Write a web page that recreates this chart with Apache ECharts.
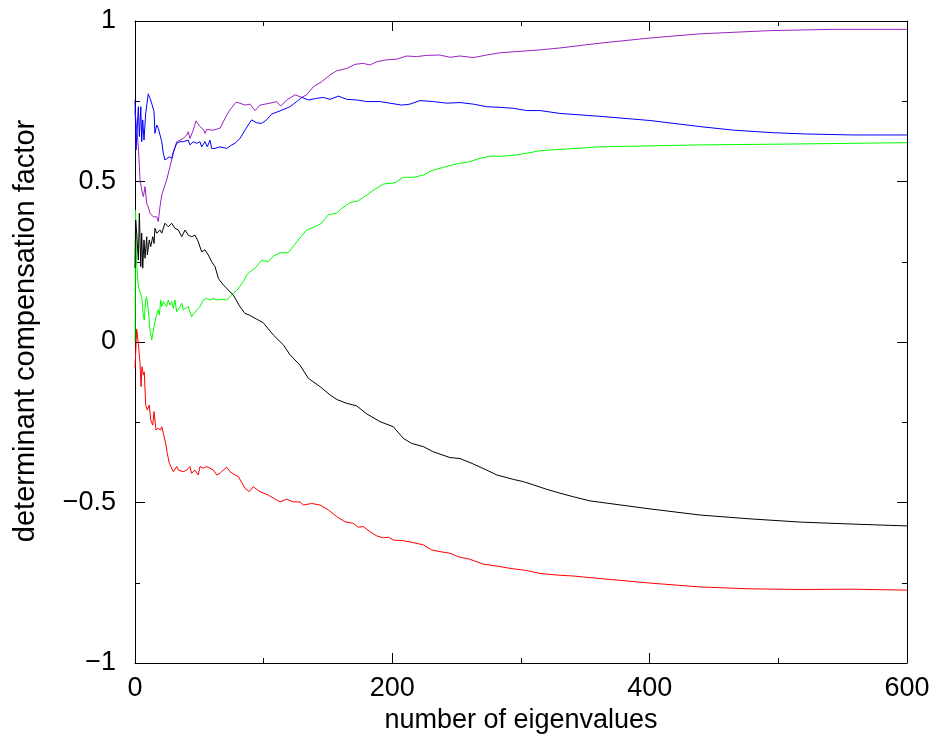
<!DOCTYPE html>
<html>
<head>
<meta charset="utf-8">
<script src="https://cdn.jsdelivr.net/npm/echarts@6/dist/echarts.min.js"></script>
<style>
  html, body { margin: 0; padding: 0; background: #fff; }
  #chart { width: 937px; height: 745px; }
</style>
</head>
<body>
<div id="chart"></div>
<script>
// Axis ranges and tick labels
const xTicks = [0, 200, 400, 600];
const yTicks = [-1, -0.5, 0, 0.5, 1];

// Each curve: [number of eigenvalues, determinant compensation factor]
const purpleCurve = [
  [0,0.72],[0.8,0.717],[2.6,0.608],[3.9,0.505],[5.2,0.473],[6.5,0.453],[7.8,0.484],[9.1,0.432],
  [10.3,0.421],[11.7,0.401],[14.2,0.390],[16.9,0.390],[18.1,0.375],[19.4,0.421],[20.8,0.458],[22,0.473],
  [24.6,0.505],[27.2,0.546],[29.8,0.588],[32.4,0.624],[35,0.629],[37.5,0.634],[40.2,0.645],[41.4,0.655],
  [42.7,0.634],[45.3,0.660],[47.4,0.689],[50.5,0.671],[53.6,0.660],[54.4,0.650],[55.7,0.662],[60.9,0.660],
  [66.1,0.666],[71.3,0.707],[73.8,0.723],[78.5,0.747],[81.6,0.744],[85.5,0.738],[89.4,0.741],[93.3,0.721],
  [97.1,0.738],[104.9,0.744],[110.1,0.749],[113.2,0.735],[117.9,0.754],[124.4,0.770],[129.6,0.762],[133.4,0.770],
  [138.6,0.795],[145.1,0.811],[151.6,0.832],[156.8,0.845],[164.5,0.852],[171,0.865],[177.4,0.868],[182.6,0.863],
  [187.8,0.873],[195.6,0.879],[203.4,0.881],[211.2,0.891],[218.9,0.889],[226.7,0.893],[237,0.894],[244.8,0.887],
  [252.6,0.891],[262.9,0.886],[273.3,0.894],[283.7,0.901],[294,0.904],[304.4,0.907],[314.8,0.910],[330.3,0.916],
  [361.4,0.931],[400.3,0.947],[439.1,0.960],[493.5,0.970],[542.5,0.974],[600,0.974]
];

const blueCurve = [
  [0,0.754],[0.8,0.598],[2.6,0.733],[3.4,0.640],[4.5,0.733],[5.2,0.624],[6,0.692],[7,0.629],
  [8.3,0.712],[9.1,0.706],[10.3,0.773],[11.7,0.759],[13.4,0.738],[14.8,0.717],[15.5,0.650],[16.9,0.676],
  [18.1,0.666],[19.4,0.660],[20.8,0.624],[22,0.588],[23.3,0.567],[24.6,0.572],[26.7,0.577],[28.5,0.572],
  [29.8,0.593],[32.4,0.619],[35,0.624],[37.5,0.624],[41.4,0.629],[42.7,0.614],[45.3,0.624],[48,0.619],
  [50.5,0.624],[51.8,0.608],[54.4,0.624],[56.2,0.608],[58.3,0.629],[59.6,0.603],[62.2,0.603],[66.1,0.608],
  [71.3,0.603],[75.2,0.614],[77.7,0.619],[81.6,0.634],[85.5,0.660],[90.6,0.692],[94.5,0.683],[98.4,0.681],
  [102.3,0.692],[106.2,0.710],[112.7,0.720],[120.5,0.733],[125.7,0.749],[129.6,0.762],[134.7,0.754],[141.2,0.759],
  [146.4,0.762],[151.6,0.756],[158.1,0.766],[164.5,0.756],[172.3,0.754],[180.1,0.749],[190.5,0.749],[198.2,0.744],
  [207.3,0.738],[213.7,0.741],[221.5,0.752],[231.9,0.749],[242.3,0.744],[252.6,0.746],[262.9,0.741],[273.3,0.733],
  [283.7,0.731],[294,0.728],[304.4,0.721],[314.8,0.721],[330.3,0.712],[361.4,0.703],[400.3,0.690],[439.1,0.671],
  [465,0.660],[496,0.652],[522,0.648],[558,0.645],[600,0.645]
];

const greenCurve = [
  [0,0],[0.4,0.41],[1.2,0.25],[2.6,0.172],[3.9,0.178],[5.2,0.141],[6.5,0.079],[7.2,0.069],
  [8.3,0.131],[9.1,0.141],[10.3,0.100],[11.7,0.037],[13,0.006],[13.8,0.001],[14.8,0.048],[16.3,0.079],
  [18.1,0.100],[18.9,0.084],[20,0.131],[20.8,0.110],[22,0.126],[23.3,0.131],[24.6,0.110],[25.9,0.131],
  [27.2,0.115],[28.5,0.126],[29.8,0.105],[31.1,0.131],[32.4,0.094],[35,0.110],[36.3,0.121],[37.5,0.100],
  [38.9,0.105],[41.4,0.110],[44,0.079],[45.3,0.084],[48,0.100],[50.5,0.110],[53.1,0.131],[55.7,0.136],
  [58.3,0.131],[60.9,0.136],[63.5,0.131],[68.6,0.133],[71.3,0.131],[73.8,0.141],[76.4,0.152],[79,0.160],
  [84.2,0.188],[86.8,0.209],[89.4,0.219],[93.3,0.230],[98.5,0.255],[103.6,0.250],[107.5,0.268],[112.7,0.278],
  [119.1,0.278],[125.7,0.312],[133.4,0.349],[139.9,0.359],[145.1,0.370],[150.2,0.396],[156.8,0.401],[160.6,0.416],
  [167.1,0.434],[173.5,0.440],[180.1,0.458],[186.5,0.476],[193,0.492],[202.1,0.496],[208.5,0.513],[216.3,0.513],
  [224.1,0.520],[230.6,0.534],[239.6,0.544],[250,0.555],[260.4,0.562],[268.1,0.572],[275.9,0.579],[286.2,0.579],
  [296.7,0.583],[307,0.590],[314.8,0.596],[322.5,0.598],[361.4,0.608],[439.1,0.614],[516.8,0.617],[600,0.621]
];

const blackCurve = [
  [0,0.23],[0.5,0.38],[1.3,0.339],[2.6,0.255],[3.4,0.401],[4.5,0.235],[5.2,0.339],[6,0.230],
  [7,0.318],[7.8,0.261],[9.1,0.328],[9.6,0.271],[11.1,0.318],[12.2,0.297],[13.8,0.328],[14.8,0.307],
  [15.5,0.354],[16.9,0.339],[19.4,0.349],[20.8,0.339],[23.3,0.370],[25.9,0.359],[28.5,0.370],[31.1,0.354],
  [33.7,0.349],[36.3,0.328],[38.9,0.349],[41.4,0.333],[44,0.328],[46.6,0.333],[49.2,0.312],[51.8,0.281],
  [54.4,0.287],[57,0.271],[59.6,0.250],[62.2,0.235],[64.8,0.198],[68.6,0.178],[72.5,0.162],[76.4,0.146],
  [81.6,0.110],[85.5,0.089],[88.8,0.084],[94.6,0.071],[99.7,0.060],[107.5,0.022],[115.3,-0.009],[120.5,-0.040],
  [128.2,-0.072],[134.7,-0.113],[143.8,-0.139],[151.6,-0.165],[156.8,-0.179],[164.5,-0.191],[172.3,-0.199],[180.1,-0.224],
  [190.4,-0.248],[200.8,-0.264],[208.5,-0.300],[215,-0.316],[224.1,-0.326],[231.8,-0.342],[244.8,-0.360],[252.6,-0.363],
  [262.9,-0.380],[273.3,-0.399],[281.1,-0.414],[294,-0.428],[301.8,-0.435],[309.6,-0.445],[320,-0.459],[330.3,-0.471],
  [340.6,-0.482],[353.6,-0.495],[400.3,-0.520],[439.1,-0.539],[478,-0.551],[517,-0.561],[556,-0.567],[600,-0.573]
];

const redCurve = [
  [0,-0.082],[1.3,0.04],[2.6,-0.004],[3.9,-0.066],[4.7,-0.139],[5.4,-0.077],[6.5,-0.103],[7.2,-0.093],
  [8.3,-0.196],[9.6,-0.212],[11.1,-0.196],[12.2,-0.243],[13.8,-0.259],[14.8,-0.217],[16.3,-0.274],[18.1,-0.269],
  [19.9,-0.274],[20.8,-0.264],[22,-0.284],[23.3,-0.284],[24.1,-0.321],[25.1,-0.347],[26.7,-0.378],[28.5,-0.393],
  [29.8,-0.404],[32.4,-0.388],[33.7,-0.399],[35,-0.393],[37.5,-0.404],[40.2,-0.399],[42.7,-0.388],[44,-0.409],
  [46.6,-0.399],[49.2,-0.414],[50.5,-0.388],[53.1,-0.393],[55.7,-0.388],[58.3,-0.393],[60.9,-0.399],[63.5,-0.414],
  [66.1,-0.409],[68.6,-0.399],[71.3,-0.390],[73.8,-0.404],[77.7,-0.414],[80.3,-0.419],[81.6,-0.425],[85.5,-0.456],
  [88.8,-0.466],[91.9,-0.451],[97.1,-0.466],[103.6,-0.477],[110.1,-0.492],[112.7,-0.498],[117.9,-0.490],[123,-0.498],
  [128.2,-0.498],[130.8,-0.508],[137.3,-0.503],[143.8,-0.508],[150.2,-0.523],[156.8,-0.544],[163.2,-0.560],[169.7,-0.565],
  [173.5,-0.577],[177.4,-0.575],[182.6,-0.591],[187.9,-0.604],[193,-0.610],[196.9,-0.608],[200.8,-0.617],[208.5,-0.619],
  [216.3,-0.625],[224.1,-0.632],[230.6,-0.648],[237,-0.653],[244.8,-0.658],[251.3,-0.669],[260.4,-0.677],[270.7,-0.692],
  [281.1,-0.698],[291.4,-0.705],[304.4,-0.712],[314.8,-0.721],[327.7,-0.726],[340.6,-0.729],[353.6,-0.734],[400.3,-0.751],
  [439.1,-0.763],[478,-0.769],[517,-0.771],[556,-0.770],[600,-0.773]
];

const xTitle = 'number of eigenvalues';
const yTitle = 'determinant compensation factor';

const FONT = '"Liberation Sans", Arial, Helvetica, sans-serif';
const ink = '#000';

function frameAxis(extra) {
  return Object.assign({
    type: 'value',
    axisLine: { show: true, onZero: false, lineStyle: { color: ink, width: 1 } },
    axisTick: { show: true, inside: true, length: 10, lineStyle: { color: ink, width: 1 } },
    minorTick: { show: true, splitNumber: 2, length: 5, lineStyle: { color: ink, width: 1 } },
    splitLine: { show: false },
    axisLabel: { show: false }
  }, extra);
}

const xMin = xTicks[0], xMax = xTicks[xTicks.length - 1];
const yMin = yTicks[0], yMax = yTicks[yTicks.length - 1];

const chart = echarts.init(document.getElementById('chart'), null, { renderer: 'canvas' });
chart.setOption({
  animation: false,
  backgroundColor: '#fff',
  grid: { left: 135, right: 30, top: 21, bottom: 82, containLabel: false },
  // vertical axis title, set a little above the plot's centre
  graphic: [{
    type: 'text',
    x: 26, y: 331,
    rotation: Math.PI / 2,
    style: {
      text: yTitle, fill: ink, fontFamily: FONT, fontSize: 29,
      align: 'center', verticalAlign: 'middle',
      textAlign: 'center', textVerticalAlign: 'middle'
    }
  }],
  xAxis: [
    frameAxis({
      position: 'bottom', min: xMin, max: xMax, interval: 200,
      name: xTitle, nameLocation: 'middle', nameGap: 40,
      nameTextStyle: { fontFamily: FONT, fontSize: 27, color: ink },
      axisLabel: { show: true, margin: 12, fontFamily: FONT, fontSize: 27, color: ink }
    }),
    frameAxis({ position: 'top', min: xMin, max: xMax, interval: 200 })
  ],
  yAxis: [
    frameAxis({
      position: 'left', min: yMin, max: yMax, interval: 0.5,
      axisLabel: {
        show: true, margin: 19, fontFamily: FONT, fontSize: 27, color: ink,
        formatter: v => String(v).replace('-', '\u2212')
      }
    }),
    frameAxis({ position: 'right', min: yMin, max: yMax, interval: 0.5 })
  ],
  series: [
    { name: 'purple', data: purpleCurve, color: '#9a22c4' },
    { name: 'blue', data: blueCurve, color: '#0000ff' },
    { name: 'green', data: greenCurve, color: '#00ff00' },
    { name: 'black', data: blackCurve, color: '#000000' },
    { name: 'red', data: redCurve, color: '#ff0000' }
  ].map(s => ({
    type: 'line', name: s.name, data: s.data,
    xAxisIndex: 0, yAxisIndex: 0,
    showSymbol: false, symbol: 'none', smooth: false,
    lineStyle: { color: s.color, width: 1 },
    itemStyle: { color: s.color }
  }))
});
</script>
</body>
</html>
